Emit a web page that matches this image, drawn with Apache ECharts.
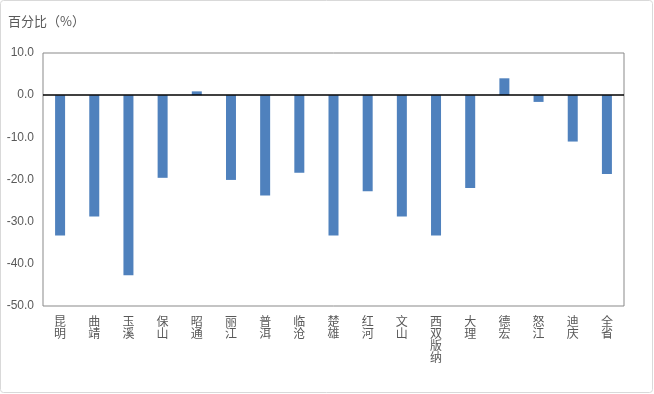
<!DOCTYPE html>
<html><head><meta charset="utf-8">
<script src="https://cdn.jsdelivr.net/npm/echarts@6/dist/echarts.min.js"></script>
<style>html,body{margin:0;padding:0;background:#fff}#c{width:654px;height:394px}</style>
</head><body><div id="c"></div>
<script>
const categories = ['昆明','曲靖','玉溪','保山','昭通','丽江','普洱','临沧','楚雄','红河','文山','西双版纳','大理','德宏','怒江','迪庆','全省'];
const values = [-33.3, -28.8, -42.7, -19.6, 0.9, -20.1, -23.8, -18.4, -33.3, -22.8, -28.8, -33.3, -22.0, 4.0, -1.6, -11.0, -18.7];
const yTicks = { min: -50, max: 10, interval: 10 };
const unitLabel = '百分比（%）';

const chart = echarts.init(document.getElementById('c'), null, {renderer: 'canvas'});
const font = '"Microsoft YaHei","Noto Sans CJK SC",sans-serif';
chart.setOption({
  animation: false,
  backgroundColor: '#fff',
  graphic: [
    {type: 'rect', shape: {x: 0.5, y: 0.5, width: 652, height: 392, r: 3}, style: {fill: 'none', stroke: '#D9D9D9', lineWidth: 1}, silent: true},
    {type: 'text', left: 8, top: 15, style: {text: unitLabel, fill: '#595959', font: '13px ' + font}}
  ],
  grid: {left: 43, right: 30, top: 53, bottom: 88, show: true, borderColor: '#898989', borderWidth: 1, backgroundColor: 'transparent'},
  xAxis: {
    type: 'category', data: categories,
    axisLine: {show: false, onZero: false}, axisTick: {show: false},
    axisLabel: {interval: 0, color: '#595959', fontSize: 12, fontFamily: font, lineHeight: 12, margin: 9, verticalAlign: 'top',
      formatter: v => v.split('').join('\n')}
  },
  yAxis: {
    type: 'value', min: yTicks.min, max: yTicks.max, interval: yTicks.interval,
    axisLine: {show: false}, axisTick: {show: false}, splitLine: {show: false},
    axisLabel: {color: '#595959', fontSize: 12, fontFamily: 'Arial, "Liberation Sans", sans-serif', margin: 9, formatter: v => v.toFixed(1)}
  },
  series: [{
    type: 'bar', data: values, barWidth: 10,
    itemStyle: {color: '#4F81BD'},
    markLine: {silent: true, symbol: 'none', label: {show: false}, lineStyle: {color: '#000', width: 1.5, type: 'solid'}, data: [{yAxis: 0}]}
  }]
});
</script></body></html>
